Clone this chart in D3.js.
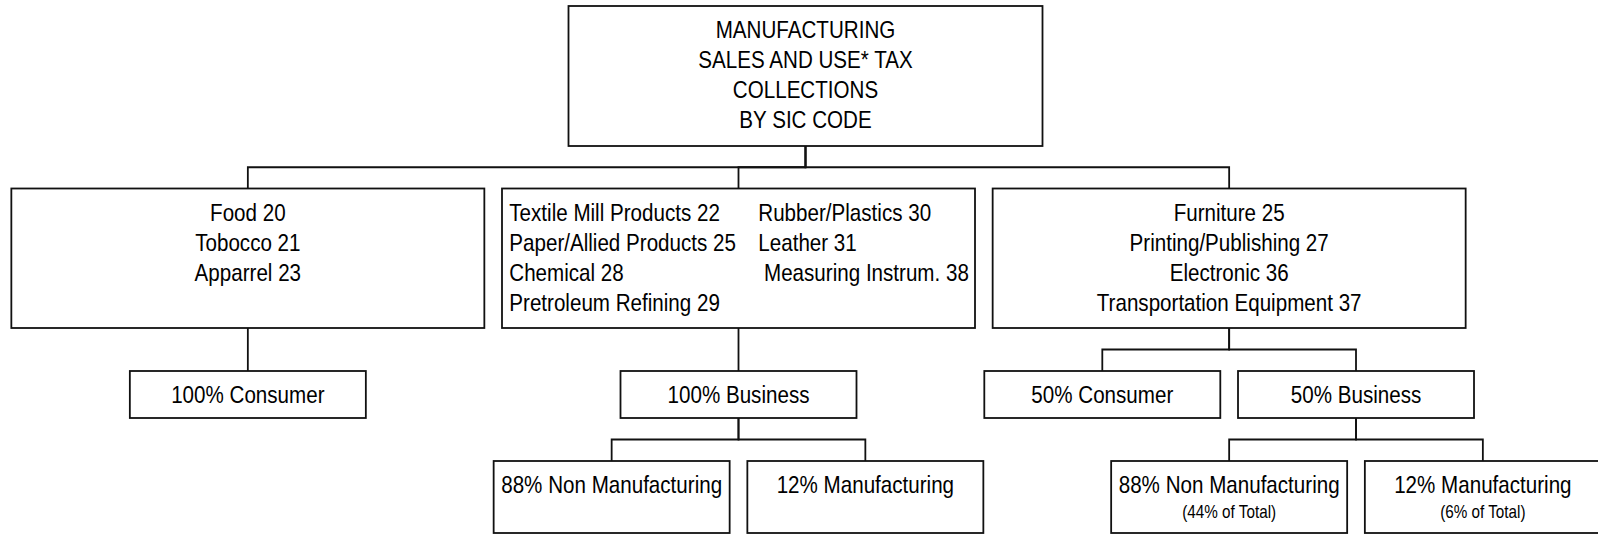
<!DOCTYPE html>
<html>
<head>
<meta charset="utf-8">
<script src="https://cdnjs.cloudflare.com/ajax/libs/d3/7.8.5/d3.min.js"></script>
<style>
  body { margin: 0; background: #fff; }
  svg { display: block; }
  text { font-family: "Liberation Sans", Arial, sans-serif; fill: #000; white-space: pre; }
</style>
</head>
<body>
<div id="chart"></div>
<script>
// chart content
var titleLines = ["MANUFACTURING", "SALES AND USE* TAX", "COLLECTIONS", "BY SIC CODE"];

var consumerCodes = ["Food 20", "Tobocco 21", "Apparrel 23"];
var businessCodesLeft = ["Textile Mill Products 22", "Paper/Allied Products 25", "Chemical 28", "Pretroleum Refining 29"];
var businessCodesRight = ["Rubber/Plastics 30", "Leather 31", " Measuring Instrum. 38"];
var mixedCodes = ["Furniture 25", "Printing/Publishing 27", "Electronic 36", "Transportation Equipment 37"];

var shareLabels = ["100% Consumer", "100% Business", "50% Consumer", "50% Business"];
var splitLabels = ["88% Non Manufacturing", "12% Manufacturing"];
var splitNotes = ["(44% of Total)", "(6% of Total)"];

function splitNodes(withNotes) {
  return splitLabels.map(function(label, i) {
    return { lines: [label], note: withNotes ? splitNotes[i] : null };
  });
}

var treeData = {
  lines: titleLines,
  children: [
    { lines: consumerCodes, children: [{ lines: [shareLabels[0]] }] },
    { columns: [businessCodesLeft, businessCodesRight],
      children: [{ lines: [shareLabels[1]], children: splitNodes(false) }] },
    { lines: mixedCodes,
      children: [
        { lines: [shareLabels[2]] },
        { lines: [shareLabels[3]], children: splitNodes(true) }
      ] }
  ]
};

// layout / style
var width = 1598, height = 536;
var levels = [
  { top: 6,     h: 140,   w: 474, base: 31.5, gap: 30.3 },
  { top: 188.5, h: 139.5, w: 473, base: 32.5, gap: 30 },
  { top: 371,   h: 47,    w: 236, base: 32,   gap: 30 },
  { top: 461,   h: 72,    w: 236, base: 31.5, gap: 30, noteBase: 57 }
];
var rootShift = 67;          // title box sits right of the tree centre
var columnOffsets = [7.3, 256.3];
var fontSize = 24, noteSize = 17.8, squeeze = 0.858;
var strokeColor = "#111", strokeWidth = 1.8;

var svg = d3.select("#chart").append("svg")
  .attr("width", width)
  .attr("height", height);

var root = d3.hierarchy(treeData);
d3.tree()
  .nodeSize([1, 1])
  .separation(function(a, b) { return a.depth === 1 ? 1.934 : 1; })(root);

var x = d3.scaleLinear().domain([0, 1]).range([738.5, 992.2]);

function nodeX(d) {
  return x(d.x) + (d.depth === 0 ? rootShift : 0);
}

// elbow connectors
svg.append("g")
  .selectAll("path")
  .data(root.links())
  .join("path")
  .attr("fill", "none")
  .attr("stroke", strokeColor)
  .attr("stroke-width", strokeWidth)
  .attr("d", function(l) {
    var s = levels[l.source.depth], t = levels[l.target.depth];
    var sy = s.top + s.h, ty = t.top;
    var my = (sy + ty) / 2;
    return "M" + nodeX(l.source) + "," + sy + "V" + my + "H" + nodeX(l.target) + "V" + ty;
  });

var node = svg.append("g")
  .selectAll("g")
  .data(root.descendants())
  .join("g");

node.append("rect")
  .attr("x", function(d) { return nodeX(d) - levels[d.depth].w / 2; })
  .attr("y", function(d) { return levels[d.depth].top; })
  .attr("width", function(d) { return levels[d.depth].w; })
  .attr("height", function(d) { return levels[d.depth].h; })
  .attr("fill", "#fff")
  .attr("stroke", strokeColor)
  .attr("stroke-width", strokeWidth);

function addText(g, str, tx, ty, size, anchor) {
  g.append("text")
    .attr("transform", "translate(" + tx + "," + ty + ") scale(" + squeeze + ",1)")
    .attr("text-anchor", anchor)
    .style("font-size", size + "px")
    .text(str);
}

node.each(function(d) {
  var g = d3.select(this);
  var lv = levels[d.depth];
  var cx = nodeX(d);

  if (d.data.columns) {
    var left = cx - lv.w / 2;
    d.data.columns.forEach(function(col, c) {
      col.forEach(function(str, i) {
        addText(g, str, left + columnOffsets[c], lv.top + lv.base + i * lv.gap, fontSize, "start");
      });
    });
  } else {
    d.data.lines.forEach(function(str, i) {
      addText(g, str, cx, lv.top + lv.base + i * lv.gap, fontSize, "middle");
    });
  }

  if (d.data.note) {
    addText(g, d.data.note, cx, lv.top + lv.noteBase, noteSize, "middle");
  }
});
</script>
</body>
</html>
